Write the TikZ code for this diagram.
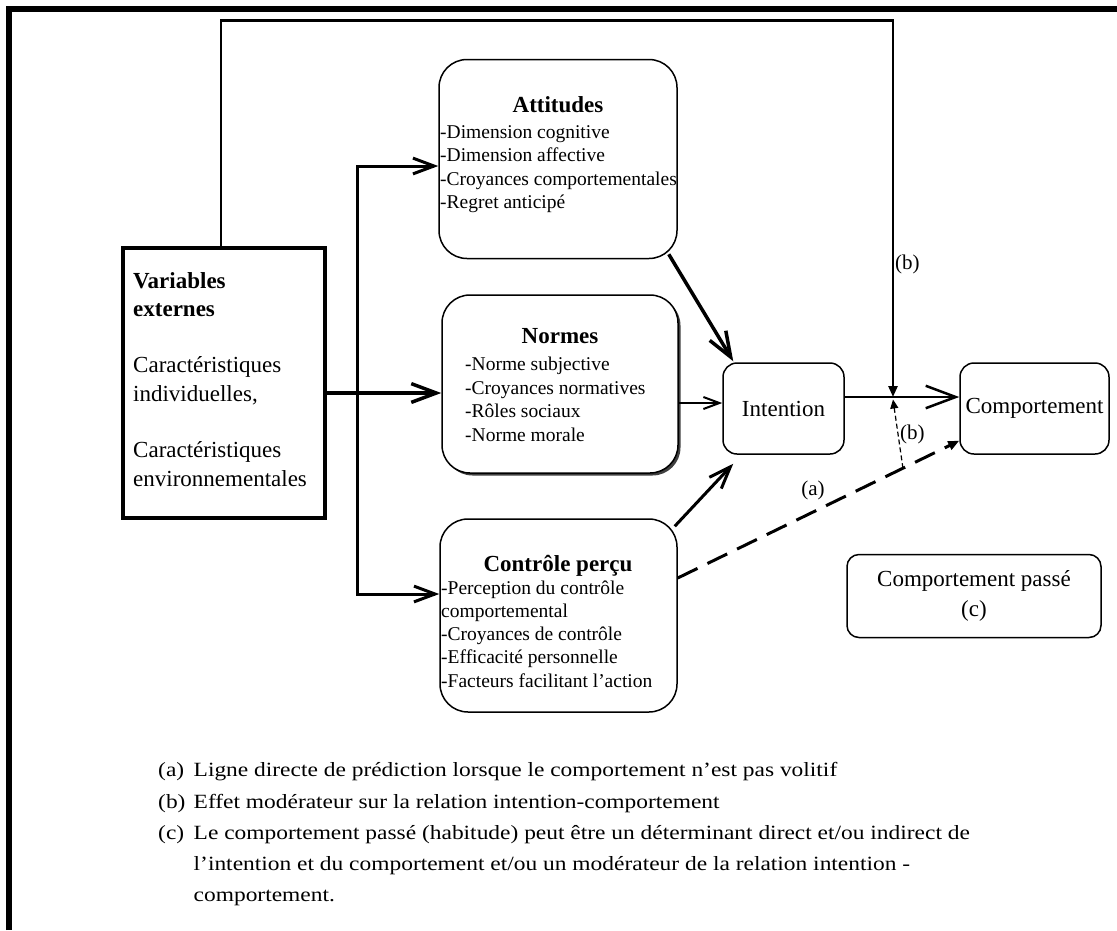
\documentclass[tikz,border=0pt]{standalone}
\usepackage{fontspec}
\setmainfont{Liberation Serif}
\newfontfamily\legendfont{Liberation Serif}[FakeStretch=1.16]
\usetikzlibrary{arrows.meta,calc,shadows}

\begin{document}
\begin{tikzpicture}[x=1pt,y=-1pt,
  rbox/.style={draw, line width=1.5pt, rounded corners=28pt, inner sep=0pt, fill=white},
  sbox/.style={draw, line width=1.5pt, rounded corners=14pt, inner sep=0pt, align=center,
    font=\fontsize{23}{30}\selectfont},
  head/.style={font=\fontsize{23}{27}\selectfont\bfseries, inner sep=0pt, anchor=base},
  listtxt/.style={font=\fontsize{19.5}{23.6}\selectfont, inner sep=0pt, anchor=base west},
  lbl/.style={font=\fontsize{21}{25}\selectfont, inner sep=0pt},
  leg/.style={font=\legendfont\fontsize{20.2}{31}\selectfont, inner sep=0pt, anchor=base west},
  barb/.style={-{Straight Barb[length=#1, width=0.75*#1]}},
  barb/.default=22pt,
  tri/.style={-{Triangle[length=11pt, width=9pt]}},
]
\useasboundingbox (0,0) rectangle (1117,930);

% outer frame (top and left edges)
\draw[line width=6pt] (9,930) -- (9,9) -- (1117,9);

% boxes
\node[draw, line width=3.5pt, minimum width=202pt, minimum height=270pt, inner sep=0pt] (var) at (224,383) {};
\node[rbox, minimum width=238pt, minimum height=199pt] (att) at (558,159) {};
\node[rbox, minimum width=236pt, minimum height=178pt,
      drop shadow={shadow xshift=2.5pt, shadow yshift=-2.5pt, fill=black!75, opacity=1}] (nor) at (560,384) {};
\node[rbox, minimum width=237pt, minimum height=193pt] (ctl) at (558.5,615.5) {};
\node[sbox, minimum width=121pt, minimum height=91pt] (int) at (783.5,408.5) {Intention};
\node[sbox, minimum width=149pt, minimum height=91pt] (com) at (1034.5,408.5) {Comportement};
\node[sbox, rounded corners=12pt, minimum width=254pt, minimum height=83pt] (pas) at (974,596) {Comportement passé\\(c)};

% box texts
\node[listtxt, font=\fontsize{23}{28.3}\selectfont] (var-t) at (133,288) {\parbox[t]{190pt}{\raggedright
  \textbf{Variables}\\\textbf{externes}\\\mbox{}\\Caractéristiques\\individuelles,\\\mbox{}\\Caractéristiques\\environnementales}};

\node[head] (att-h) at (558,112) {Attitudes};
\node[listtxt] (att-t) at (440,138) {\parbox[t]{240pt}{\raggedright
  -Dimension cognitive\\-Dimension affective\\-Croyances comportementales\\-Regret anticipé}};

\node[head] (nor-h) at (560,343) {Normes};
\node[listtxt] (nor-t) at (465,370.5) {\parbox[t]{210pt}{\raggedright
  -Norme subjective\\-Croyances normatives\\-Rôles sociaux\\-Norme morale}};

\node[head] (ctl-h) at (558,571) {Contrôle perçu};
\node[listtxt, font=\fontsize{19.5}{23.3}\selectfont] (ctl-t) at (441,594) {\parbox[t]{235pt}{\raggedright
  -Perception du contrôle\\comportemental\\-Croyances de contrôle\\-Efficacité personnelle\\-Facteurs facilitant l’action}};

% connectors
\coordinate (vn) at ([xshift=-3pt]var.north);
\coordinate (jb) at (893,397);
\coordinate (bt) at (357,166);
\coordinate (bb) at (357,594);

\draw[line width=3.5pt, barb=25pt] ([yshift=-10pt]var.east) -- ([yshift=-9pt]nor.west);
\draw[line width=3pt, line cap=rect, barb=21pt] (bb) -- (bt) -- (bt -| att.west);
\draw[line width=3pt, line cap=rect, barb=21pt] (bb) -- (bb -| ctl.west);

\draw[line width=3.5pt, barb=25pt] ([xshift=-9pt,yshift=5pt]att.south east) -- ([xshift=11pt,yshift=1pt]int.north west);
\draw[line width=3pt, barb=22pt] ([xshift=-3pt,yshift=-8pt]ctl.north east) -- ([xshift=11pt,yshift=-9pt]int.south west);
\draw[line width=2pt, barb=16pt] ([yshift=-19pt]nor.east) -- ([yshift=5.5pt]int.west);
\draw[line width=2.5pt, barb=30pt] ([yshift=11.5pt]int.east) -- ([yshift=11.5pt]com.west);

\draw[line width=2.5pt, tri] (vn) -- ++(0,-226) -| (jb);

\coordinate (ds) at ([yshift=37.5pt]ctl.east);
\coordinate (de) at ([yshift=14pt]com.south west);
\coordinate (dm) at ($(ds)!0.8!(de)$);
\draw[line width=3pt, dash pattern=on 22pt off 11pt, tri] (ds) -- (de);
\draw[line width=1.2pt, dash pattern=on 5pt off 3pt, -{Triangle[length=9pt, width=8pt]}] (dm) -- ([yshift=-2.5pt]jb);

% path labels
\node[lbl, anchor=west] (lb-top) at (895,264) {(b)};
\node[lbl, anchor=west] (lb-low) at (900,434) {(b)};
\node[lbl] (la) at (813,490) {(a)};

% legend
\node[leg] (k-a) at (158,776) {(a)};
\node[leg] (t-a) at (193.5,776) {Ligne directe de prédiction lorsque le comportement n’est pas volitif};
\node[leg] (k-b) at (158,808) {(b)};
\node[leg] (t-b) at (193.5,808) {Effet modérateur sur la relation intention-comportement};
\node[leg] (k-c) at (158,839) {(c)};
\node[leg] (t-c) at (193.5,839) {\parbox[t]{900pt}{\raggedright
  Le comportement passé (habitude) peut être un déterminant direct et/ou indirect de\\
  l’intention et du comportement et/ou un modérateur de la relation intention -\\
  comportement.}};
\end{tikzpicture}
\end{document}
